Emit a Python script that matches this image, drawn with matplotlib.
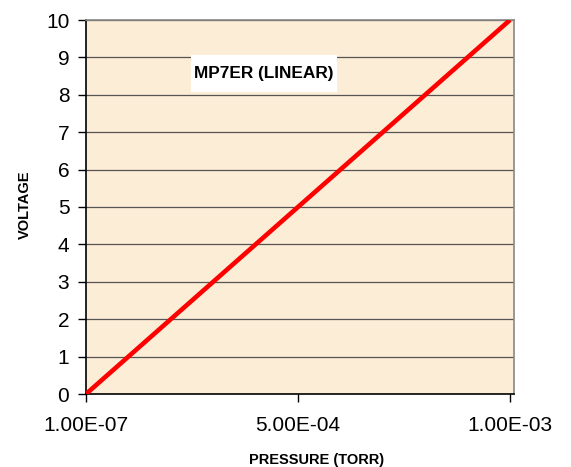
import matplotlib
matplotlib.use("Agg")
import matplotlib.pyplot as plt
from matplotlib.patches import Rectangle

plt.rcParams['font.family'] = ['Liberation Sans', 'DejaVu Sans']

# data
pressure = [1.0e-7, 1.0e-3]
voltage = [0, 10]
xticks = [1.0e-7, 5.0e-4, 1.0e-3]
xtick_labels = ['1.00E-07', '5.00E-04', '1.00E-03']
yticks = list(range(0, 11))

fig = plt.figure(figsize=(5.71, 4.67), dpi=100)
ax = fig.add_axes([86 / 571, 1 - 394 / 467, 428 / 571, 374 / 467])
ax.set_facecolor('#FCEDD7')

# horizontal gridlines
for y in yticks[1:]:
    ax.axhline(y, color='#555555', lw=0.9, zorder=1)

ax.plot(pressure, voltage, color='#FF0000', lw=3.3, zorder=3, solid_capstyle='butt')

ax.set_xlim(1.0e-7, 1.0095e-3)
ax.set_ylim(0, 10)
ax.set_xticks(xticks)
ax.set_xticklabels(xtick_labels)
ax.set_yticks(yticks)
ax.tick_params(axis='both', labelsize=15, length=6, width=1, direction='out', color='black')
ax.tick_params(axis='x', pad=10)
ax.tick_params(axis='y', pad=6)

ax.spines['left'].set_color('black')
ax.spines['bottom'].set_color('black')
ax.spines['top'].set_color('#888888')
ax.spines['right'].set_color('#888888')
for s in ax.spines.values():
    s.set_linewidth(1.2)

# axis titles
fig.text(317 / 571, 1 - 460 / 467, 'PRESSURE (TORR)', fontsize=10.5, fontweight='bold',
         ha='center', va='center')
fig.text(25 / 571, 1 - 205 / 467, 'VOLTAGE', fontsize=10.5, fontweight='bold',
         ha='center', va='center', rotation=90)

# chart title in a white box
ax.add_patch(Rectangle((0.246, 0.808), 0.340, 0.0987, transform=ax.transAxes,
                       facecolor='white', edgecolor='none', zorder=4))
ax.text(0.253, 0.857, 'MP7ER (LINEAR)', transform=ax.transAxes, fontsize=12.4,
        fontweight='bold', va='center', ha='left', zorder=5)

fig.savefig('out.png', dpi=100)
